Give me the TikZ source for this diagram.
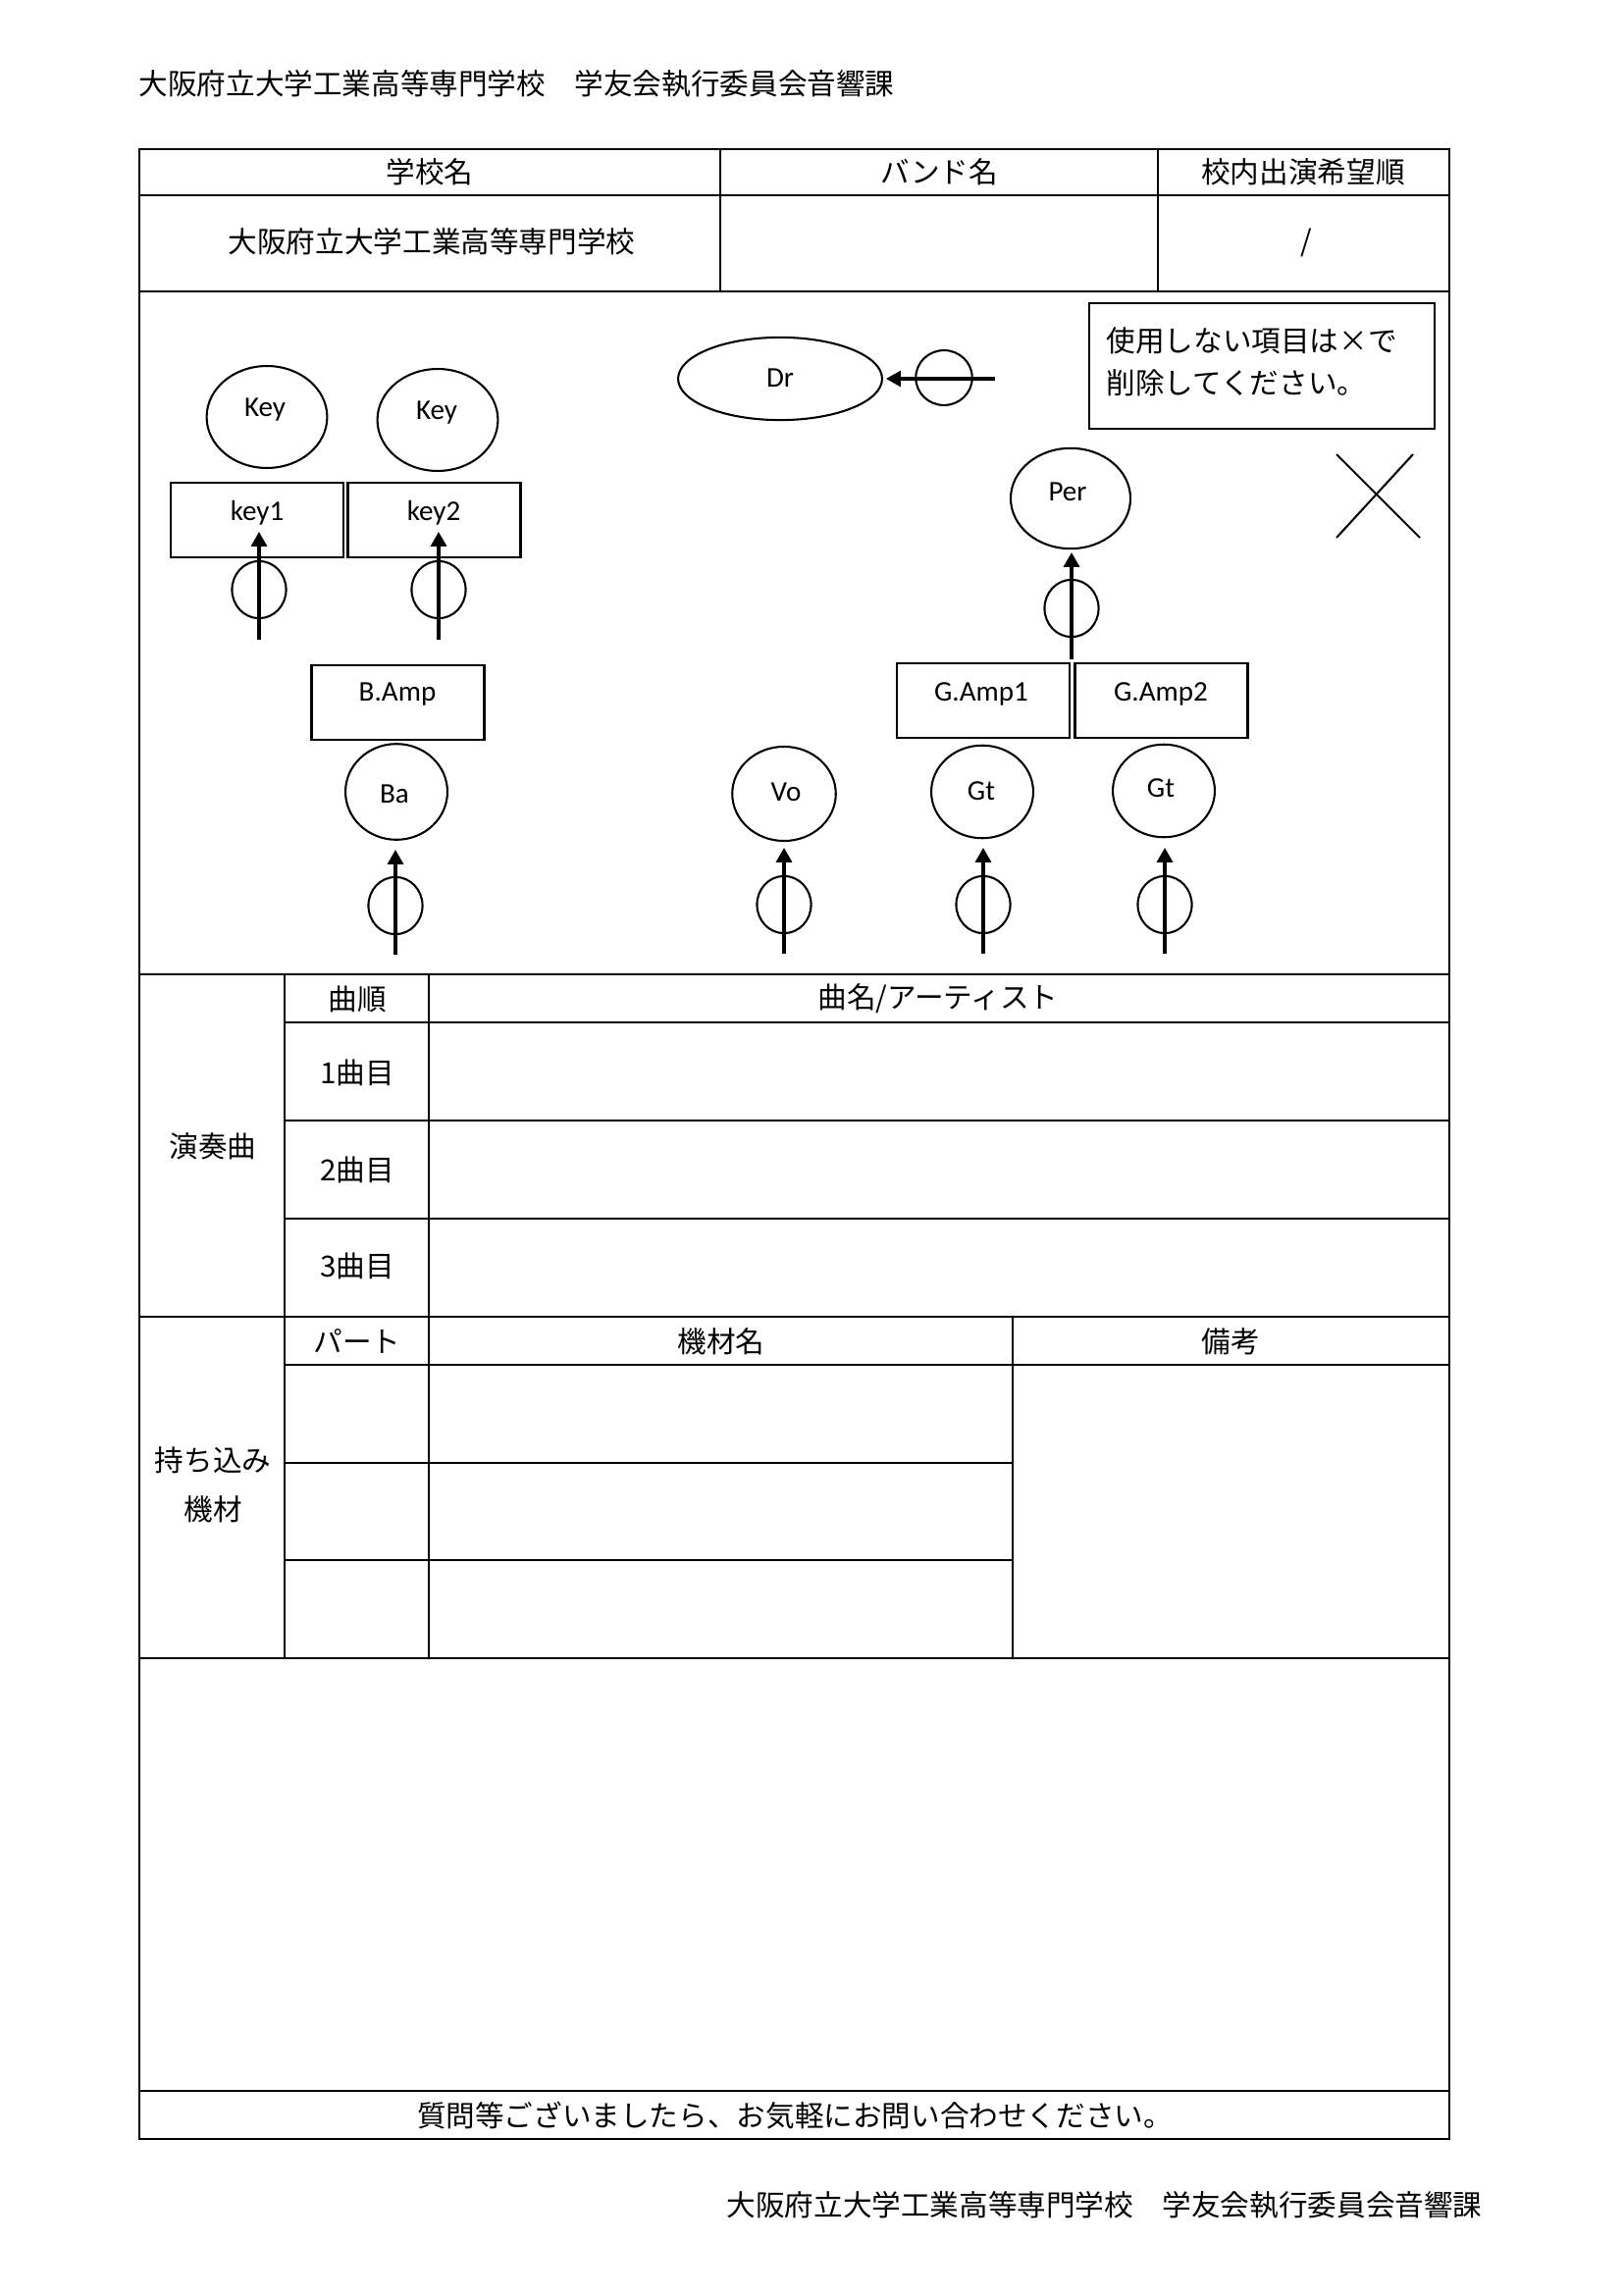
\documentclass[tikz,border=0pt]{standalone}
\usepackage{fontspec}
\setmainfont{Noto Sans CJK JP}
\newfontfamily\latf{Carlito}
\usetikzlibrary{shapes.geometric,arrows.meta}
\begin{document}
\begin{tikzpicture}[x=0.127mm,y=-0.127mm,
  outer/.style={line width=1pt},
  inner/.style={line width=0.8pt},
  jp/.style={font=\fontsize{10.7pt}{13pt}\selectfont, inner sep=0pt},
  lt/.style={font=\latf\fontsize{10.5pt}{12pt}\selectfont, inner sep=0pt},
  player/.style={ellipse, draw, line width=0.75pt, inner sep=0pt},
  ampbox/.style={rectangle, draw, line width=0.9pt, minimum width=22.3mm, minimum height=9.6mm, inner sep=0pt},
  mic/.style={ellipse, draw, line width=0.75pt, minimum width=7mm, minimum height=7.4mm, inner sep=0pt},
  sig/.style={line width=1.1pt, -{Triangle[length=5.4pt,width=5.8pt]}},
]
\useasboundingbox (0,0) rectangle (1654,2338);

% ---------- header / footer ----------
\node[jp, anchor=west] (head) at (141,85) {大阪府立大学工業高等専門学校　学友会執行委員会音響課};
\node[jp, anchor=east] (foot) at (1511,2247) {大阪府立大学工業高等専門学校　学友会執行委員会音響課};

% ---------- table lines ----------
\draw[outer] (142,152) rectangle (1477,2180);
\draw[inner] (142,199) -- (1477,199);
\draw[outer] (142,297) -- (1477,297);
\draw[inner] (734,152) -- (734,297);
\draw[inner] (1180,152) -- (1180,297);
\draw[outer] (142,993) -- (1477,993);
\draw[inner] (290,993) -- (290,1690);
\draw[inner] (437,993) -- (437,1690);
\draw[inner] (290,1042) -- (1477,1042);
\draw[inner] (290,1142) -- (1477,1142);
\draw[inner] (290,1242) -- (1477,1242);
\draw[outer] (142,1342) -- (1477,1342);
\draw[inner] (1032,1342) -- (1032,1690);
\draw[inner] (290,1391) -- (1477,1391);
\draw[inner] (290,1491) -- (1032,1491);
\draw[inner] (290,1590) -- (1032,1590);
\draw[outer] (142,1690) -- (1477,1690);
\draw[outer] (142,2131) -- (1477,2131);

% ---------- table texts ----------
\node[jp] (tSchoolH) at (438,175) {学校名};
\node[jp] (tBandH) at (957,175) {バンド名};
\node[jp] (tOrderH) at (1328,175) {校内出演希望順};
\node[jp] (tSchool) at (440,246) {大阪府立大学工業高等専門学校};
\node[jp] (tSlash) at (1331,247) {/};

\node[jp] (sOrder) at (364,1018) {曲順};
\node[jp] (sTitle) at (956,1018) {曲名/アーティスト};
\node[jp] (s1) at (364,1093) {1曲目};
\node[jp] (s2) at (364,1192) {2曲目};
\node[jp] (s3) at (364,1290) {3曲目};
\node[jp] (sHead) at (217,1168) {演奏曲};

\node[jp] (ePart) at (364,1367) {パート};
\node[jp] (eName) at (735,1367) {機材名};
\node[jp] (eNote) at (1254,1367) {備考};
\node[jp] (eHead1) at (217,1488) {持ち込み};
\node[jp] (eHead2) at (217,1538) {機材};

\node[jp] (ask) at (810,2156) {質問等ございましたら、お気軽にお問い合わせください。};

% ---------- note box and X ----------
\node[draw, line width=0.9pt, rectangle, minimum width=44.7mm, minimum height=16.3mm, inner sep=0pt] (notebox) at (1286,373) {};
\node[jp, anchor=west] (note1) at (1127,347) {使用しない項目は×で};
\node[jp, anchor=west] (note2) at (1127,390) {削除してください。};
\coordinate (xa) at (1362,463);
\coordinate (xb) at (1447,548);
\coordinate (xc) at (1440,463);
\coordinate (xd) at (1362,548);
\draw[line width=0.75pt] (xa) -- (xb);
\draw[line width=0.75pt] (xc) -- (xd);

% ---------- players ----------
\node[player, minimum width=15.6mm, minimum height=13.2mm] (key1c) at (272,425) {};
\node[lt] (key1t) at (270,418) {Key};
\node[player, minimum width=15.6mm, minimum height=13.2mm] (key2c) at (446,428) {};
\node[lt] (key2t) at (445,421) {Key};
\node[player, minimum width=26.4mm, minimum height=10.7mm] (drc) at (795,386) {};
\node[lt] (drt) at (795,385) {Dr};
\node[player, minimum width=15.5mm, minimum height=13.0mm] (perc) at (1091,508) {};
\node[lt] (pert) at (1088,501) {Per};

\node[player, minimum width=13.2mm, minimum height=12.4mm] (bac) at (404,807) {};
\node[lt] (bat) at (402,809) {Ba};
\node[player, minimum width=13.4mm, minimum height=12.2mm] (voc) at (799,809) {};
\node[lt] (vot) at (801,807) {Vo};
\node[player, minimum width=13.2mm, minimum height=12.0mm] (gt1c) at (1001,807) {};
\node[lt] (gt1t) at (1000,806) {Gt};
\node[player, minimum width=13.2mm, minimum height=12.0mm] (gt2c) at (1186,806) {};
\node[lt] (gt2t) at (1183,803) {Gt};

% ---------- amps / keyboards ----------
\node[ampbox] (k1box) at (262,530) {};
\node[lt] (k1t) at (262,523) {key1};
\node[ampbox] (k2box) at (442.5,530) {};
\node[lt] (k2t) at (442,523) {key2};
\node[ampbox] (bampbox) at (405.5,716) {};
\node[lt] (bampt) at (405,708) {B.Amp};
\node[ampbox] (g1box) at (1002,714) {};
\node[lt] (g1t) at (1000,707) {G.Amp1};
\node[ampbox] (g2box) at (1183.5,714) {};
\node[lt] (g2t) at (1183,707) {G.Amp2};

% ---------- mics and signal arrows ----------
\node[mic] (m1) at (264,601) {};
\coordinate (k1s) at (264,652); \coordinate (k1e) at (264,542);
\draw[sig] (k1s) -- (k1e);

\node[mic] (m2) at (447,601) {};
\coordinate (k2s) at (447,652); \coordinate (k2e) at (447,542);
\draw[sig] (k2s) -- (k2e);

\node[mic] (mper) at (1092,620) {};
\coordinate (ps) at (1092,672); \coordinate (pe) at (1092,563);
\draw[sig] (ps) -- (pe);

\node[mic, minimum width=7.3mm, minimum height=7.1mm] (mdr) at (962,385) {};
\coordinate (ds) at (1014,386); \coordinate (de) at (903,386);
\draw[sig] (ds) -- (de);

\node[mic] (mba) at (403,923) {};
\coordinate (bs) at (403,973); \coordinate (be) at (403,866);
\draw[sig] (bs) -- (be);

\node[mic] (mvo) at (799,922) {};
\coordinate (vs) at (799,972); \coordinate (ve) at (799,864);
\draw[sig] (vs) -- (ve);

\node[mic] (mg1) at (1002,922) {};
\coordinate (g1s) at (1002,972); \coordinate (g1e) at (1002,864);
\draw[sig] (g1s) -- (g1e);

\node[mic] (mg2) at (1187,922) {};
\coordinate (g2s) at (1187,972); \coordinate (g2e) at (1187,864);
\draw[sig] (g2s) -- (g2e);

\end{tikzpicture}
\end{document}
